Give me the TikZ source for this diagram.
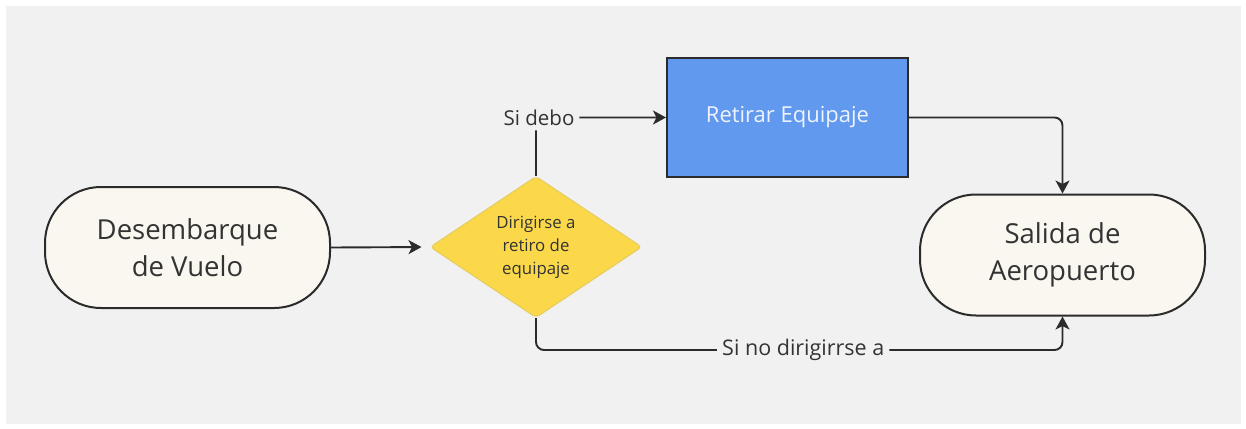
\documentclass[tikz,border=0pt]{standalone}
\usepackage{fontspec}
\setmainfont{Open Sans}
\usetikzlibrary{shapes.geometric,arrows.meta}
\definecolor{bg}{HTML}{F1F1F1}
\definecolor{pillfill}{HTML}{FAF7F0}
\definecolor{ink}{HTML}{333333}
\definecolor{edge}{HTML}{2B2B2B}
\definecolor{boxblue}{HTML}{6199EE}
\definecolor{boxtext}{HTML}{EEF3FF}
\definecolor{dyellow}{HTML}{FAD84A}
\definecolor{dborder}{HTML}{E6CC66}
\tikzset{
  pill/.style={draw=edge, line width=2pt, fill=pillfill, rectangle, rounded corners=56pt,
    minimum width=285pt, minimum height=121pt, align=center, text=ink,
    font=\fontsize{27.5}{37}\selectfont},
  stepbox/.style={draw=edge, line width=2pt, fill=boxblue, rectangle,
    minimum width=241pt, minimum height=119pt, text=boxtext, font=\fontsize{22}{26}\selectfont},
  decide/.style={diamond, draw=dborder, line width=1pt, fill=dyellow, rounded corners=4pt,
    minimum width=212pt, minimum height=137pt, inner sep=0pt, align=center, text=ink,
    font=\fontsize{16.8}{23}\selectfont},
  conn/.style={draw=edge, line width=1.9pt, rounded corners=8pt,
    -{Stealth[length=13pt,width=14pt,inset=3.5pt]}},
  lbl/.style={fill=bg, text=ink, inner sep=5pt, font=\fontsize{21.5}{26}\selectfont}
}
\begin{document}
\begin{tikzpicture}[x=1pt,y=-1pt]
\useasboundingbox (0,0) rectangle (1246,428);
\fill[white] (0,0) rectangle (1246,428);
\fill[bg] (6,6) rectangle (1241,424);
\node[pill] (des) at (187.5,247.5) {Desembarque\\de Vuelo};
\node[decide] (dia) at (536,247) {Dirigirse a\\retiro de\\equipaje};
\node[stepbox] (ret) at (787.5,117.5) {Retirar Equipaje};
\node[pill] (sal) at (1062.5,255) {Salida de\\Aeropuerto};
\draw[conn, shorten >=8pt] (des.east) -- (dia.west);
\draw[conn] (dia.north) |- node[lbl, pos=0.5, xshift=3pt, font=\fontsize{20.5}{24}\selectfont] {Si debo} (ret.west);
\draw[conn] (ret.east) -| (sal.north);
\coordinate (low) at (536,350);
\draw[conn] (dia.south) -- (low) -| node[lbl, pos=0.25, xshift=4pt] {Si no dirigirrse a} (sal.south);
\end{tikzpicture}
\end{document}
